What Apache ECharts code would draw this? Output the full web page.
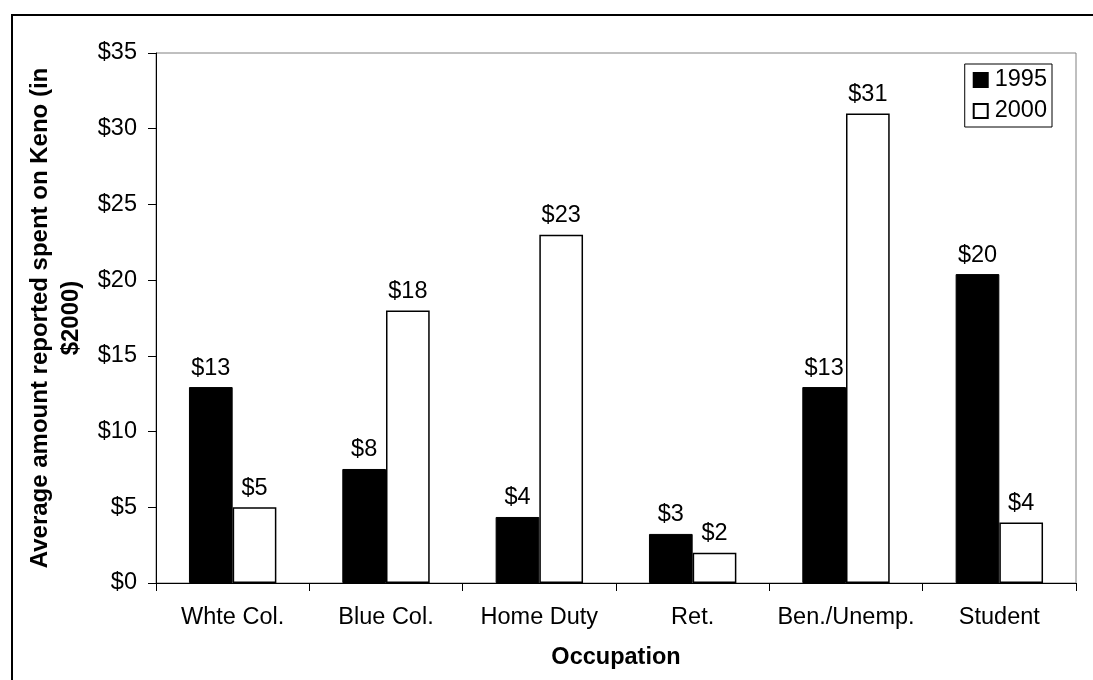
<!DOCTYPE html>
<html style="height: 100%">
<head>
    <meta charset="utf-8">
    <style>
        html, body {
            height: 100%;
            margin: 0;
            padding: 0;
            overflow: hidden;
            background: #fff;
        }
        #container {
            width: 1093px;
            height: 680px;
        }
    </style>
</head>
<body>
    <div id="container"></div>
    <script src="https://cdn.jsdelivr.net/npm/echarts@6/dist/echarts.min.js"></script>
    <script>
        var occupations = ['Whte Col.', 'Blue Col.', 'Home Duty', 'Ret.', 'Ben./Unemp.', 'Student'];
        var spend1995 = [12.94, 7.53, 4.36, 3.24, 12.94, 20.4];
        var spend2000 = [5.0, 18.0, 23.0, 2.0, 31.0, 4.0];
        var yTicks = [0, 5, 10, 15, 20, 25, 30, 35];

        var font = 'Liberation Sans, Arial, sans-serif';
        var fs = 23.5;
        var myChart = echarts.init(document.getElementById('container'));

        var barLabel = {
            show: true,
            position: 'top',
            distance: 7,
            color: '#000',
            fontFamily: font,
            fontSize: fs,
            formatter: function (p) { return '$' + Math.round(p.value); }
        };

        var option = {
            animation: false,
            backgroundColor: '#fff',
            textStyle: { fontFamily: font },
            graphic: [{
                type: 'rect',
                shape: { x: 12, y: 15, width: 1100, height: 700 },
                style: { fill: 'none', stroke: '#000', lineWidth: 2 },
                silent: true
            }],
            grid: {
                left: 156, top: 53, right: 17, bottom: 97,
                show: true,
                borderColor: '#808080',
                borderWidth: 1
            },
            legend: {
                orient: 'vertical',
                right: 41,
                top: 64,
                padding: [4, 5, 4, 8],
                borderColor: '#000',
                borderWidth: 1,
                itemWidth: 14,
                itemHeight: 14,
                itemGap: 7,
                icon: 'rect',
                textStyle: { fontFamily: font, fontSize: fs, color: '#000', padding: [0, 0, 0, 2] },
                data: ['1995', '2000']
            },
            xAxis: {
                type: 'category',
                data: occupations,
                name: 'Occupation',
                nameLocation: 'middle',
                nameGap: 63,
                nameTextStyle: { fontFamily: font, fontSize: fs, fontWeight: 'bold', color: '#000' },
                axisLine: { lineStyle: { color: '#000', width: 1 } },
                axisTick: { show: true, interval: 0, length: 8, lineStyle: { color: '#000' } },
                axisLabel: { interval: 0, margin: 23, fontFamily: font, fontSize: fs, color: '#000' }
            },
            yAxis: {
                type: 'value',
                min: yTicks[0],
                max: yTicks[yTicks.length - 1],
                interval: 5,
                name: 'Average amount reported spent on Keno (in\n$2000)',
                nameLocation: 'middle',
                nameRotate: 90,
                nameGap: 62,
                nameTextStyle: { fontFamily: font, fontSize: 24, fontWeight: 'bold', color: '#000', lineHeight: 31 },
                axisLine: { show: true, lineStyle: { color: '#000', width: 1 } },
                axisTick: { show: true, length: 8, lineStyle: { color: '#000' } },
                splitLine: { show: false },
                axisLabel: {
                    margin: 19, fontFamily: font, fontSize: fs, color: '#000',
                    formatter: function (v) { return '$' + v; }
                }
            },
            series: [{
                name: '1995',
                type: 'bar',
                data: spend1995,
                barGap: '0%',
                barCategoryGap: '43%',
                itemStyle: { color: '#000', borderColor: '#000', borderWidth: 1 },
                label: barLabel
            }, {
                name: '2000',
                type: 'bar',
                data: spend2000,
                itemStyle: { color: '#fff', borderColor: '#000', borderWidth: 1.5 },
                label: barLabel
            }]
        };
        myChart.setOption(option);
    </script>
</body>
</html>
